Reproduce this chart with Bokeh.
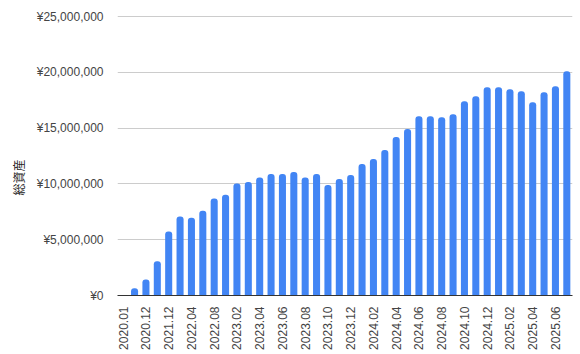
import math
from bokeh.plotting import figure
from bokeh.models import FixedTicker, ColumnDataSource, Title
from bokeh.embed import file_html
from bokeh.resources import INLINE

months = ["2020.01", "2020.06", "2020.12", "2021.06", "2021.12", "2022.02", "2022.04", "2022.06",
          "2022.08", "2022.12",
          "2023.02", "2023.03", "2023.04", "2023.05", "2023.06", "2023.07", "2023.08", "2023.09",
          "2023.10", "2023.11", "2023.12",
          "2024.01", "2024.02", "2024.03", "2024.04", "2024.05", "2024.06", "2024.07", "2024.08",
          "2024.09", "2024.10", "2024.11", "2024.12",
          "2025.01", "2025.02", "2025.03", "2025.04", "2025.05", "2025.06", "2025.07"]
assets = [0, 650000, 1430000, 3070000, 5740000, 7080000, 6960000, 7590000, 8690000, 9020000,
          10030000, 10180000, 10570000, 10890000, 10890000, 11070000, 10570000, 10890000,
          9910000, 10450000, 10800000,
          11790000, 12230000, 13040000, 14200000, 14910000, 16070000, 16070000, 15980000,
          16250000, 17410000, 17860000, 18660000,
          18660000, 18480000, 18300000, 17320000, 18210000, 18750000, 20090000]
y_ticks = [0, 5000000, 10000000, 15000000, 20000000, 25000000]
y_labels = ["¥0", "¥5,000,000", "¥10,000,000", "¥15,000,000", "¥20,000,000", "¥25,000,000"]
y_title = "総資産"

idx = list(range(len(months)))
src = ColumnDataSource(dict(x=idx, top=assets))

per_px = 25000000 / 279.0
p = figure(width=580, height=354, output_backend="svg", toolbar_location=None,
           x_range=(-0.5, len(months) - 0.5), y_range=(0, 25000000 + 2 * per_px),
           min_border_left=116, min_border_right=8, min_border_top=14, min_border_bottom=59)
p.outline_line_color = None
p.background_fill_color = "white"
p.border_fill_color = "white"

p.vbar(x="x", top="top", width=0.62, bottom=0, source=src, fill_color="#4285F4",
       line_color=None, border_radius=(3, 3, 0, 0))

font = "Liberation Sans"
# x axis
p.xaxis.ticker = FixedTicker(ticks=idx[::2])
p.xaxis.major_label_overrides = {i: months[i] for i in idx}
p.xaxis.major_label_orientation = math.pi / 2
p.xaxis.major_label_text_font = font
p.xaxis.major_label_text_font_size = "12px"
p.xaxis.major_label_text_color = "#444444"
p.xaxis.major_label_standoff = 5
p.xaxis.axis_line_color = "#333333"
p.xaxis.major_tick_line_color = None
p.xaxis.minor_tick_line_color = None

# y axis
p.yaxis.ticker = FixedTicker(ticks=y_ticks)
p.yaxis.major_label_overrides = dict(zip(y_ticks, y_labels))
p.yaxis.major_label_text_font = font
p.yaxis.major_label_text_font_size = "12px"
p.yaxis.major_label_text_color = "#444444"
p.yaxis.major_label_standoff = 8
p.yaxis.axis_line_color = None
p.yaxis.major_tick_line_color = None
p.yaxis.minor_tick_line_color = None

p.xgrid.grid_line_color = None
p.ygrid.grid_line_color = "#cccccc"

t = Title(text=y_title, align="left", offset=100, standoff=14,
          text_font="Noto Sans CJK JP", text_font_size="12px", text_font_style="normal",
          text_color="#222222")
p.add_layout(t, "left")

open("out.html", "w").write(file_html(p, INLINE))
